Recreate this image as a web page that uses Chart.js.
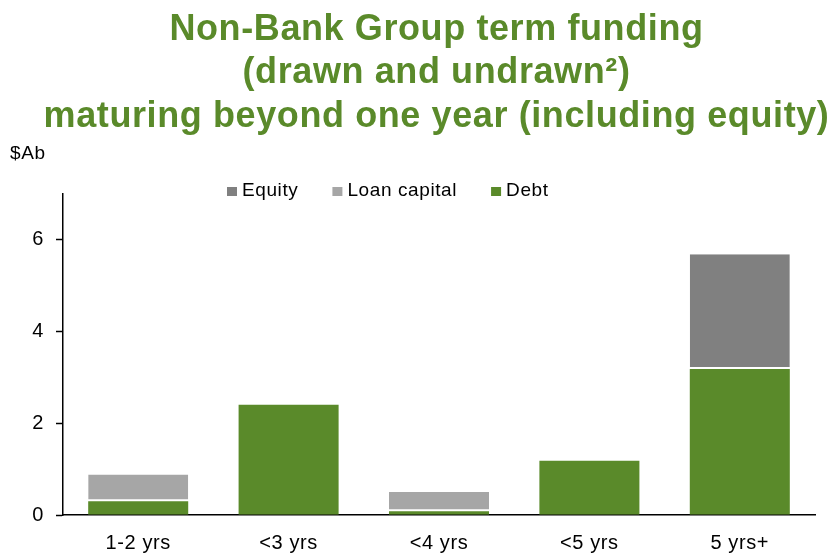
<!DOCTYPE html>
<html>
<head>
<meta charset="utf-8">
<script src="https://cdn.jsdelivr.net/npm/chart.js@4/dist/chart.umd.min.js"></script>
<style>
  html, body { margin: 0; padding: 0; background: #fff; }
  #wrap { width: 833px; height: 553px; }
</style>
</head>
<body>
<div id="wrap"><canvas id="fundingChart" width="833" height="553"></canvas></div>
<script>
// Datos del gráfico ($Ab)
const categorias = ['1-2 yrs', '<3 yrs', '<4 yrs', '<5 yrs', '5 yrs+'];
const deuda = [0.3, 2.4, 0.08, 1.18, 3.18];
const capitalPrestamo = [0.58, 0, 0.42, 0, 0];
const patrimonio = [0, 0, 0, 0, 2.5];
const ticksY = [0, 2, 4, 6];

const VERDE = '#5A8A2A';
const FUENTE = '"Liberation Sans", Arial, sans-serif';

/**
 * Leyenda y etiqueta de unidades dibujadas a mano (la leyenda va dentro del área)
 */
const leyendaPlugin = {
    id: 'leyendaManual',
    afterLayout(chart) {
        // el título va algo desplazado a la derecha del centro del lienzo
        const t = chart.titleBlock;
        if (t) { t.left += 29; t.right += 29; }
    },
    beforeDraw(chart) {
        chart.ctx.letterSpacing = '0.6px';
    },
    afterDraw(chart) {
        const ctx = chart.ctx;
        ctx.save();
        ctx.font = '19px ' + FUENTE;
        ctx.textBaseline = 'middle';
        ctx.textAlign = 'left';
        ctx.fillStyle = '#000';
        ctx.fillText('$Ab', 10, 154);

        let x = 227;
        chart.data.datasets.slice().reverse().forEach(ds => {
            ctx.fillStyle = ds.backgroundColor;
            ctx.fillRect(x, 187, 10, 9);
            ctx.fillStyle = '#000';
            ctx.fillText(ds.label, x + 15, 191);
            x += 15 + ctx.measureText(ds.label).width + 34;
        });
        ctx.restore();
    }
};

const segmentoSuperior = { top: 0, right: 0, left: 0, bottom: 2 };

new Chart(document.getElementById('fundingChart'), {
    type: 'bar',
    data: {
        labels: categorias,
        datasets: [
            { label: 'Debt', data: deuda, backgroundColor: VERDE, borderWidth: 0 },
            { label: 'Loan capital', data: capitalPrestamo, backgroundColor: '#A6A6A6',
              borderColor: '#fff', borderWidth: segmentoSuperior, borderSkipped: false },
            { label: 'Equity', data: patrimonio, backgroundColor: '#808080',
              borderColor: '#fff', borderWidth: segmentoSuperior, borderSkipped: false }
        ]
    },
    options: {
        responsive: false,
        animation: false,
        layout: { padding: { left: 0, right: 18, top: 0, bottom: 0 } },
        datasets: { bar: { categoryPercentage: 1, barPercentage: 0.665 } },
        plugins: {
            legend: { display: false },
            tooltip: { enabled: false },
            title: {
                display: true,
                text: ['Non-Bank Group term funding', '(drawn and undrawn²)', 'maturing beyond one year (including equity)'],
                color: VERDE,
                font: { family: FUENTE, size: 36, weight: 'bold', lineHeight: 1.21 },
                padding: { top: 8, bottom: 55 }
            }
        },
        scales: {
            x: {
                stacked: true,
                afterFit: s => { s.height = 38; },
                grid: { display: false, drawTicks: false },
                border: { color: '#000', width: 1.5 },
                ticks: { padding: 18, color: '#000', font: { family: FUENTE, size: 20, lineHeight: 1 } }
            },
            y: {
                stacked: true,
                min: 0,
                max: 7,
                afterBuildTicks: s => { s.ticks = ticksY.map(v => ({ value: v })); },
                afterFit: s => { s.width = 63; },
                grid: { drawOnChartArea: false, color: '#000', tickLength: 7, tickWidth: 1.5 },
                border: { color: '#000', width: 1.5 },
                ticks: { padding: 12, color: '#000', font: { family: FUENTE, size: 20 } }
            }
        }
    },
    plugins: [leyendaPlugin]
});
</script>
</body>
</html>
